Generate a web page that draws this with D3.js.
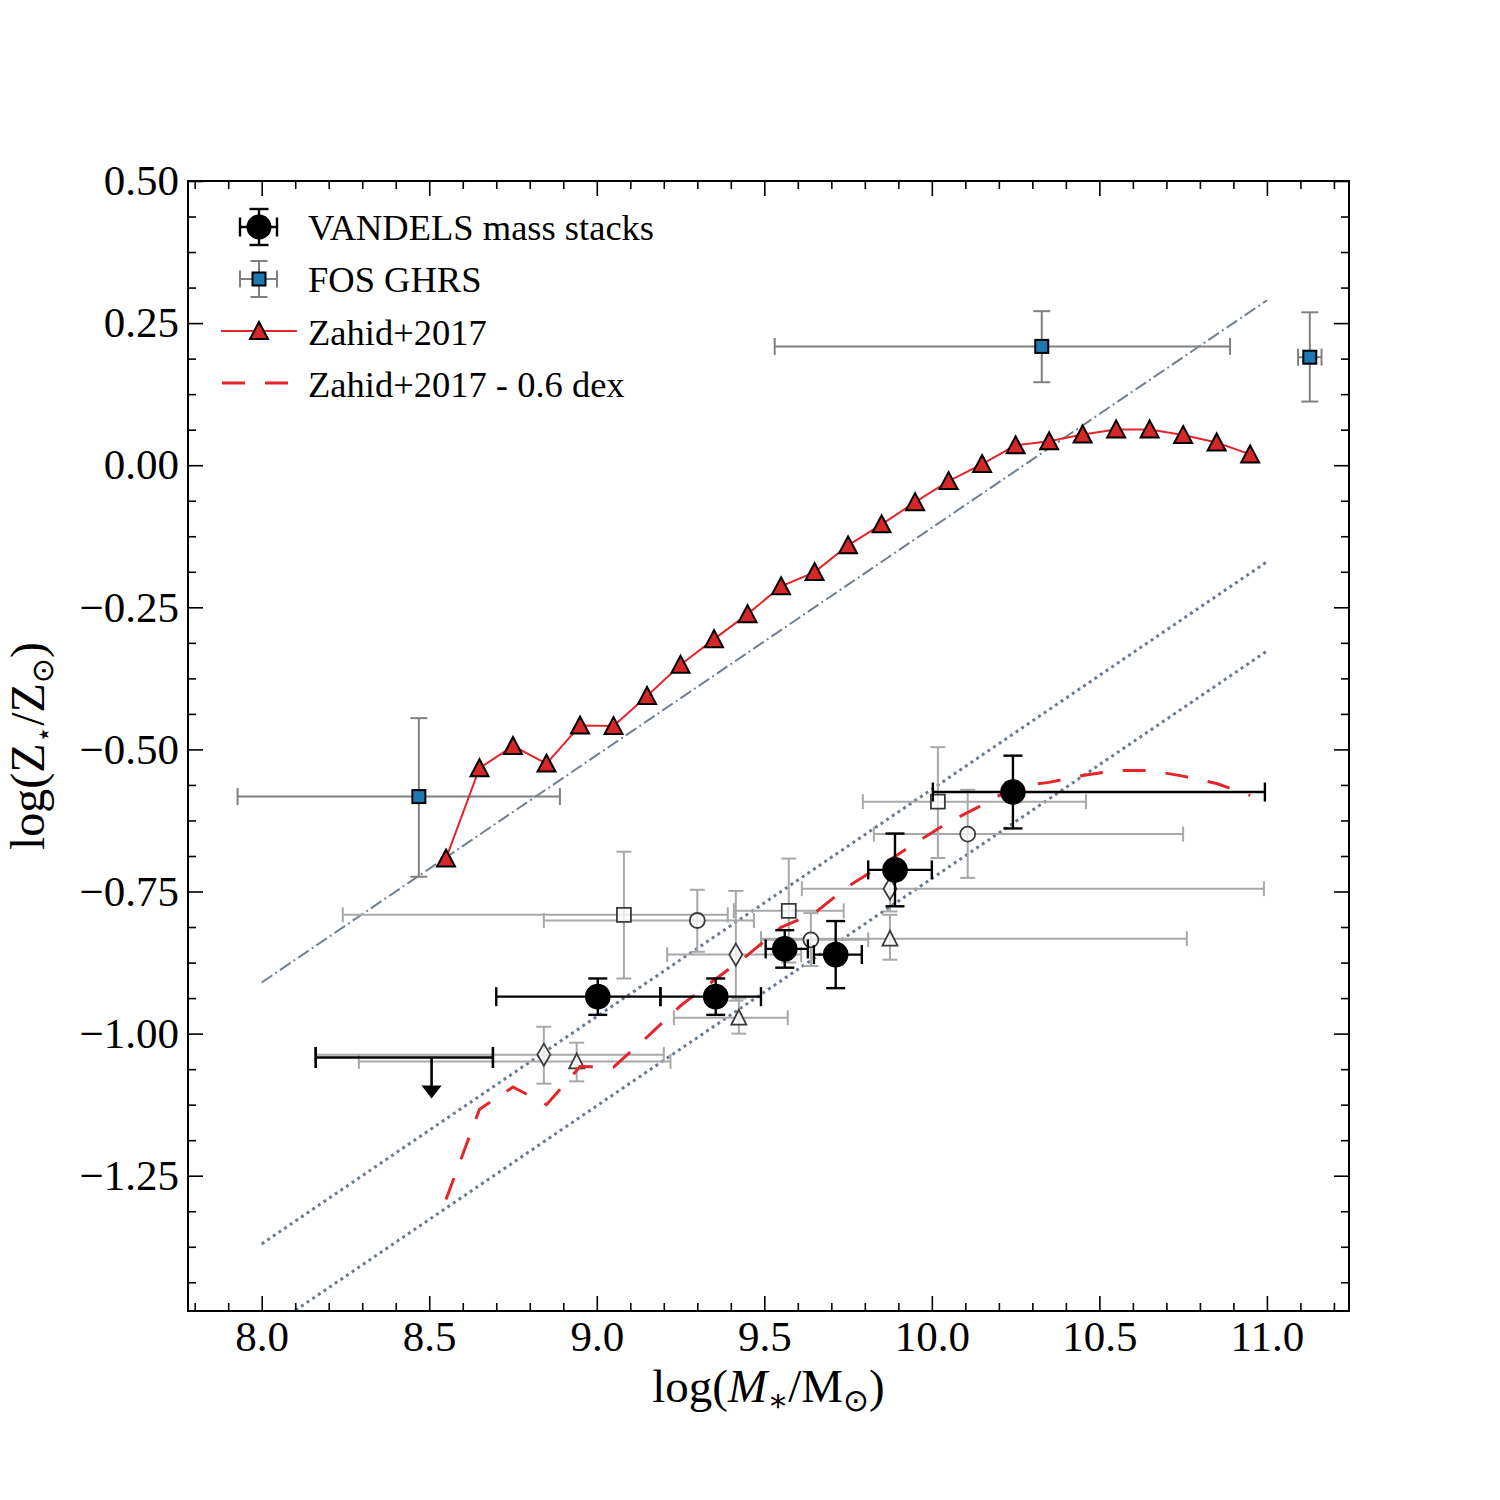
<!DOCTYPE html>
<html>
<head>
<meta charset="utf-8">
<script src="https://cdn.jsdelivr.net/npm/d3@7"></script>
<style>
  body { margin: 0; background: #fff; }
  text { font-family: "Liberation Serif", "DejaVu Serif", serif; fill: #000; }
</style>
</head>
<body>
<div id="chart"></div>
<script>
// Zahid+2017 relation
const zahidMass = [8.55, 8.65, 8.75, 8.85, 8.95, 9.05, 9.15, 9.25, 9.35, 9.45, 9.55, 9.65, 9.75,
  9.85, 9.95, 10.05, 10.15, 10.25, 10.35, 10.45, 10.55, 10.65, 10.75, 10.85, 10.95];
const zahidZ = [-0.692, -0.533, -0.494, -0.525, -0.458, -0.459, -0.406, -0.351, -0.306, -0.262,
  -0.213, -0.188, -0.141, -0.104, -0.065, -0.028, 0.002, 0.035, 0.042, 0.054, 0.063, 0.063,
  0.053, 0.040, 0.019];
const zahidOffset = 0.6;

// VANDELS mass stacks
const vMass = [9.003, 9.355, 9.561, 9.713, 9.890, 10.242];
const vMassLo = [8.70, 9.19, 9.504, 9.648, 9.81, 10.003];
const vMassHi = [9.19, 9.49, 9.63, 9.791, 10.0, 10.994];
const vZ = [-0.935, -0.935, -0.851, -0.861, -0.712, -0.575];
const vZErr = [0.032, 0.032, 0.033, 0.059, 0.064, 0.064];

// VANDELS upper limit
const limMass = 8.507, limMassLo = 8.161, limMassHi = 8.69;
const limZ = -1.042, limTip = -1.114;

// FOS GHRS
const fosMass = [8.469, 10.328, 11.128];
const fosMassLo = [7.928, 9.531, 11.093];
const fosMassHi = [8.890, 10.890, 11.163];
const fosZ = [-0.583, 0.209, 0.190];
const fosZLo = [-0.724, 0.146, 0.112];
const fosZHi = [-0.445, 0.271, 0.269];

// literature points (open grey markers)
const litShape = ["square", "square", "square", "circle", "circle", "circle",
  "diamond", "diamond", "diamond", "triangle", "triangle", "triangle"];
const litMass = [9.081, 9.573, 10.018, 9.30, 9.639, 10.107, 8.842, 9.415, 9.875, 8.940, 9.424, 9.875];
const litMassLo = [8.242, 9.409, 9.794, 8.842, 9.49, 9.827, 8.16, 9.21, 9.612, 8.29, 9.23, 9.49];
const litMassHi = [9.391, 9.737, 10.46, 9.469, 9.81, 10.75, 9.20, 9.61, 10.991, 9.22, 9.57, 10.761];
const litZ = [-0.791, -0.784, -0.592, -0.801, -0.835, -0.649, -1.037, -0.861, -0.745, -1.049, -0.972, -0.833];
const litZLo = [-0.903, -0.875, -0.691, -0.856, -0.881, -0.726, -1.088, -0.942, -0.785, -1.084, -1.0, -0.870];
const litZHi = [-0.680, -0.692, -0.496, -0.747, -0.788, -0.571, -0.988, -0.749, -0.705, -1.016, -0.938, -0.791];

// reference lines
const refX = [8.0, 11.0];
const dashDotY = [-0.91, 0.29];
const dotUpperY = [-1.37, -0.17];
const dotLowerY = [-1.527, -0.327];

// tick values
const xMajor = [8.0, 8.5, 9.0, 9.5, 10.0, 10.5, 11.0];
const yMajor = [-1.25, -1.0, -0.75, -0.5, -0.25, 0.0, 0.25, 0.5];

const W = 1500, H = 1500;
const margin = { top: 181, left: 188, right: 151, bottom: 189 };
const pw = W - margin.left - margin.right;
const ph = H - margin.top - margin.bottom;

const svg = d3.select("#chart").append("svg").attr("width", W).attr("height", H);
const g = svg.append("g").attr("transform", `translate(${margin.left},${margin.top})`);

const x = d3.scaleLinear().domain([7.78, 11.245]).range([0, pw]);
const y = d3.scaleLinear().domain([-1.488, 0.5]).range([ph, 0]);

svg.append("defs").append("clipPath").attr("id", "clip")
  .append("rect").attr("width", pw).attr("height", ph);

const plot = g.append("g").attr("clip-path", "url(#clip)");

// minor ticks
const xMinor = d3.range(78, 113).map(d => d / 10).filter(d => !xMajor.some(m => Math.abs(m - d) < 1e-6));
const yMinor = d3.range(-23, 9).map(d => d * 0.0625).filter(d => d > -1.488 && !yMajor.some(m => Math.abs(m - d) < 1e-6));

function styleAxis(sel) {
  sel.select(".domain").remove();
  sel.selectAll(".tick line").attr("stroke", "#000").attr("stroke-width", 1.6);
}

g.append("g").attr("transform", `translate(0,${ph})`)
  .call(d3.axisBottom(x).tickValues(xMajor).tickSize(-15).tickPadding(8).tickFormat(d3.format(".1f")))
  .call(styleAxis)
  .selectAll("text").attr("font-size", 43).attr("font-family", "Liberation Serif").attr("dy", "0.75em");
g.append("g").attr("transform", `translate(0,${ph})`)
  .call(d3.axisBottom(x).tickValues(xMinor).tickSize(-8).tickFormat("")).call(styleAxis);
g.append("g").call(d3.axisTop(x).tickValues(xMajor).tickSize(-15).tickFormat("")).call(styleAxis);
g.append("g").call(d3.axisTop(x).tickValues(xMinor).tickSize(-8).tickFormat("")).call(styleAxis);

g.append("g")
  .call(d3.axisLeft(y).tickValues(yMajor).tickSize(-15).tickPadding(9).tickFormat(d3.format(".2f")))
  .call(styleAxis)
  .selectAll("text").attr("font-size", 43).attr("font-family", "Liberation Serif").attr("x", -9);
g.append("g").call(d3.axisLeft(y).tickValues(yMinor).tickSize(-8).tickFormat("")).call(styleAxis);
g.append("g").attr("transform", `translate(${pw},0)`)
  .call(d3.axisRight(y).tickValues(yMajor).tickSize(-15).tickFormat("")).call(styleAxis);
g.append("g").attr("transform", `translate(${pw},0)`)
  .call(d3.axisRight(y).tickValues(yMinor).tickSize(-8).tickFormat("")).call(styleAxis);

// reference lines
const line2 = d3.line().x(d => x(d[0])).y(d => y(d[1]));
plot.append("path").datum(refX.map((v, i) => [v, dashDotY[i]]))
  .attr("d", line2).attr("fill", "none").attr("stroke", "#708090").attr("stroke-width", 2)
  .attr("stroke-dasharray", "12.8,3.6,2,3.6");
[dotUpperY, dotLowerY].forEach(arr => {
  plot.append("path").datum(refX.map((v, i) => [v, arr[i]]))
    .attr("d", line2).attr("fill", "none").attr("stroke", "#6a7b8f").attr("stroke-width", 3)
    .attr("stroke-dasharray", "3,3.8");
});

// generic error bar
function errorBar(sel, cx, cy, x0, x1, y0, y1, color, width, cap) {
  const eb = sel.append("g").attr("stroke", color).attr("stroke-width", width).attr("fill", "none");
  if (x0 != null) {
    eb.append("line").attr("x1", x0).attr("x2", x1).attr("y1", cy).attr("y2", cy);
    eb.append("line").attr("x1", x0).attr("x2", x0).attr("y1", cy - cap).attr("y2", cy + cap);
    eb.append("line").attr("x1", x1).attr("x2", x1).attr("y1", cy - cap).attr("y2", cy + cap);
  }
  if (y0 != null) {
    eb.append("line").attr("x1", cx).attr("x2", cx).attr("y1", y0).attr("y2", y1);
    eb.append("line").attr("x1", cx - cap).attr("x2", cx + cap).attr("y1", y0).attr("y2", y0);
    eb.append("line").attr("x1", cx - cap).attr("x2", cx + cap).attr("y1", y1).attr("y2", y1);
  }
}

function shapePath(shape) {
  if (shape === "square") return "M-7,-7H7V7H-7Z";
  if (shape === "diamond") return "M0,-11L6.5,0L0,11L-6.5,0Z";
  if (shape === "triangle") return "M0,-8L7.5,7L-7.5,7Z";
  return d3.symbol(d3.symbolCircle, Math.PI * 7.5 * 7.5)();
}

// literature points
const lit = plot.append("g");
litMass.forEach((m, i) => {
  errorBar(lit, x(m), y(litZ[i]), x(litMassLo[i]), x(litMassHi[i]), y(litZLo[i]), y(litZHi[i]),
    "#a8a8a8", 2, 7.5);
});
litMass.forEach((m, i) => {
  lit.append("path").attr("d", shapePath(litShape[i]))
    .attr("transform", `translate(${x(m)},${y(litZ[i])})`)
    .attr("fill", "rgba(255,255,255,0.75)").attr("stroke", "#3a3a3a").attr("stroke-width", 1.8);
});

// FOS GHRS
const fos = plot.append("g");
fosMass.forEach((m, i) => {
  errorBar(fos, x(m), y(fosZ[i]), x(fosMassLo[i]), x(fosMassHi[i]), y(fosZLo[i]), y(fosZHi[i]),
    "#808080", 2, 8.5);
});
fosMass.forEach((m, i) => {
  fos.append("rect").attr("x", x(m) - 6.5).attr("y", y(fosZ[i]) - 6.5)
    .attr("width", 13).attr("height", 13)
    .attr("fill", "#1f77b4").attr("stroke", "#000").attr("stroke-width", 2);
});

// Zahid - 0.6 dex (dashed)
const zLine = d3.line().x(d => x(d[0])).y(d => y(d[1]));
plot.append("path").datum(zahidMass.map((m, i) => [m, zahidZ[i] - zahidOffset]))
  .attr("d", zLine).attr("fill", "none").attr("stroke", "#e3262b").attr("stroke-width", 3)
  .attr("stroke-dasharray", "23,20");

// Zahid+2017
plot.append("path").datum(zahidMass.map((m, i) => [m, zahidZ[i]]))
  .attr("d", zLine).attr("fill", "none").attr("stroke", "#e3262b").attr("stroke-width", 2);
const triPath = "M0,-9L9,8L-9,8Z";
plot.selectAll(".ztri").data(zahidMass).join("path").attr("class", "ztri")
  .attr("d", triPath)
  .attr("transform", (d, i) => `translate(${x(d)},${y(zahidZ[i])})`)
  .attr("fill", "#d62728").attr("stroke", "#000").attr("stroke-width", 2).attr("stroke-linejoin", "miter");

// VANDELS
const van = plot.append("g");
vMass.forEach((m, i) => {
  errorBar(van, x(m), y(vZ[i]), x(vMassLo[i]), x(vMassHi[i]), y(vZ[i] - vZErr[i]), y(vZ[i] + vZErr[i]),
    "#000", 2.4, 9.5);
});
van.selectAll("circle").data(vMass).join("circle")
  .attr("cx", d => x(d)).attr("cy", (d, i) => y(vZ[i])).attr("r", 12.8).attr("fill", "#000");

// upper limit
errorBar(van, x(limMass), y(limZ), x(limMassLo), x(limMassHi), null, null, "#000", 2.6, 10.5);
van.append("line").attr("x1", x(limMass)).attr("x2", x(limMass))
  .attr("y1", y(limZ)).attr("y2", y(limTip) - 10).attr("stroke", "#000").attr("stroke-width", 2.6);
van.append("path")
  .attr("d", `M${x(limMass) - 10},${y(limTip) - 13}L${x(limMass) + 10},${y(limTip) - 13}L${x(limMass)},${y(limTip)}Z`)
  .attr("fill", "#000");

// frame
g.append("rect").attr("width", pw).attr("height", ph)
  .attr("fill", "none").attr("stroke", "#000").attr("stroke-width", 2);

// axis labels
const xl = svg.append("text").attr("x", margin.left + pw / 2).attr("y", 1402)
  .attr("text-anchor", "middle").attr("font-size", 47);
xl.append("tspan").text("log(");
xl.append("tspan").attr("font-style", "italic").text("M");
xl.append("tspan").attr("font-size", 31).attr("dy", 9).text("∗");
xl.append("tspan").attr("dy", -9).text("/M");
xl.append("tspan").attr("font-size", 31).attr("dy", 9).attr("font-family", "DejaVu Sans").text("⊙");
xl.append("tspan").attr("dy", -9).text(")");

const yl = svg.append("text")
  .attr("transform", `translate(44,${margin.top + 565}) rotate(-90)`)
  .attr("text-anchor", "middle").attr("font-size", 48);
yl.append("tspan").text("log(Z");
yl.append("tspan").attr("font-size", 28).attr("dy", 9).attr("font-family", "DejaVu Sans").text("⋆");
yl.append("tspan").attr("dy", -9).text("/Z");
yl.append("tspan").attr("font-size", 30).attr("dy", 9).attr("font-family", "DejaVu Sans").text("⊙");
yl.append("tspan").attr("dy", -9).text(")");

// legend
const leg = svg.append("g");
const legX = 259, textX = 308;
// VANDELS
errorBar(leg, legX, 227, legX - 19, legX + 18, 209, 245, "#000", 2.4, 9.5);
leg.append("circle").attr("cx", legX).attr("cy", 227).attr("r", 12.5).attr("fill", "#000");
leg.append("text").attr("x", textX).attr("y", 240).attr("font-size", 36.5).text("VANDELS mass stacks");
// FOS GHRS
errorBar(leg, legX, 279, legX - 19, legX + 18, 261, 297, "#808080", 2, 8.5);
leg.append("rect").attr("x", legX - 6.5).attr("y", 272.5).attr("width", 13).attr("height", 13)
  .attr("fill", "#1f77b4").attr("stroke", "#000").attr("stroke-width", 2);
leg.append("text").attr("x", textX).attr("y", 292).attr("font-size", 36.5).text("FOS GHRS");
// Zahid
leg.append("line").attr("x1", 221).attr("x2", 297).attr("y1", 331).attr("y2", 331)
  .attr("stroke", "#e3262b").attr("stroke-width", 2);
leg.append("path").attr("d", triPath).attr("transform", `translate(${legX},331)`)
  .attr("fill", "#d62728").attr("stroke", "#000").attr("stroke-width", 2);
leg.append("text").attr("x", textX).attr("y", 345).attr("font-size", 36.5).text("Zahid+2017");
// Zahid - 0.6
leg.append("line").attr("x1", 222).attr("x2", 298).attr("y1", 383).attr("y2", 383)
  .attr("stroke", "#e3262b").attr("stroke-width", 3).attr("stroke-dasharray", "23,20");
leg.append("text").attr("x", textX).attr("y", 397).attr("font-size", 36.5).text("Zahid+2017 - 0.6 dex");
</script>
</body>
</html>
